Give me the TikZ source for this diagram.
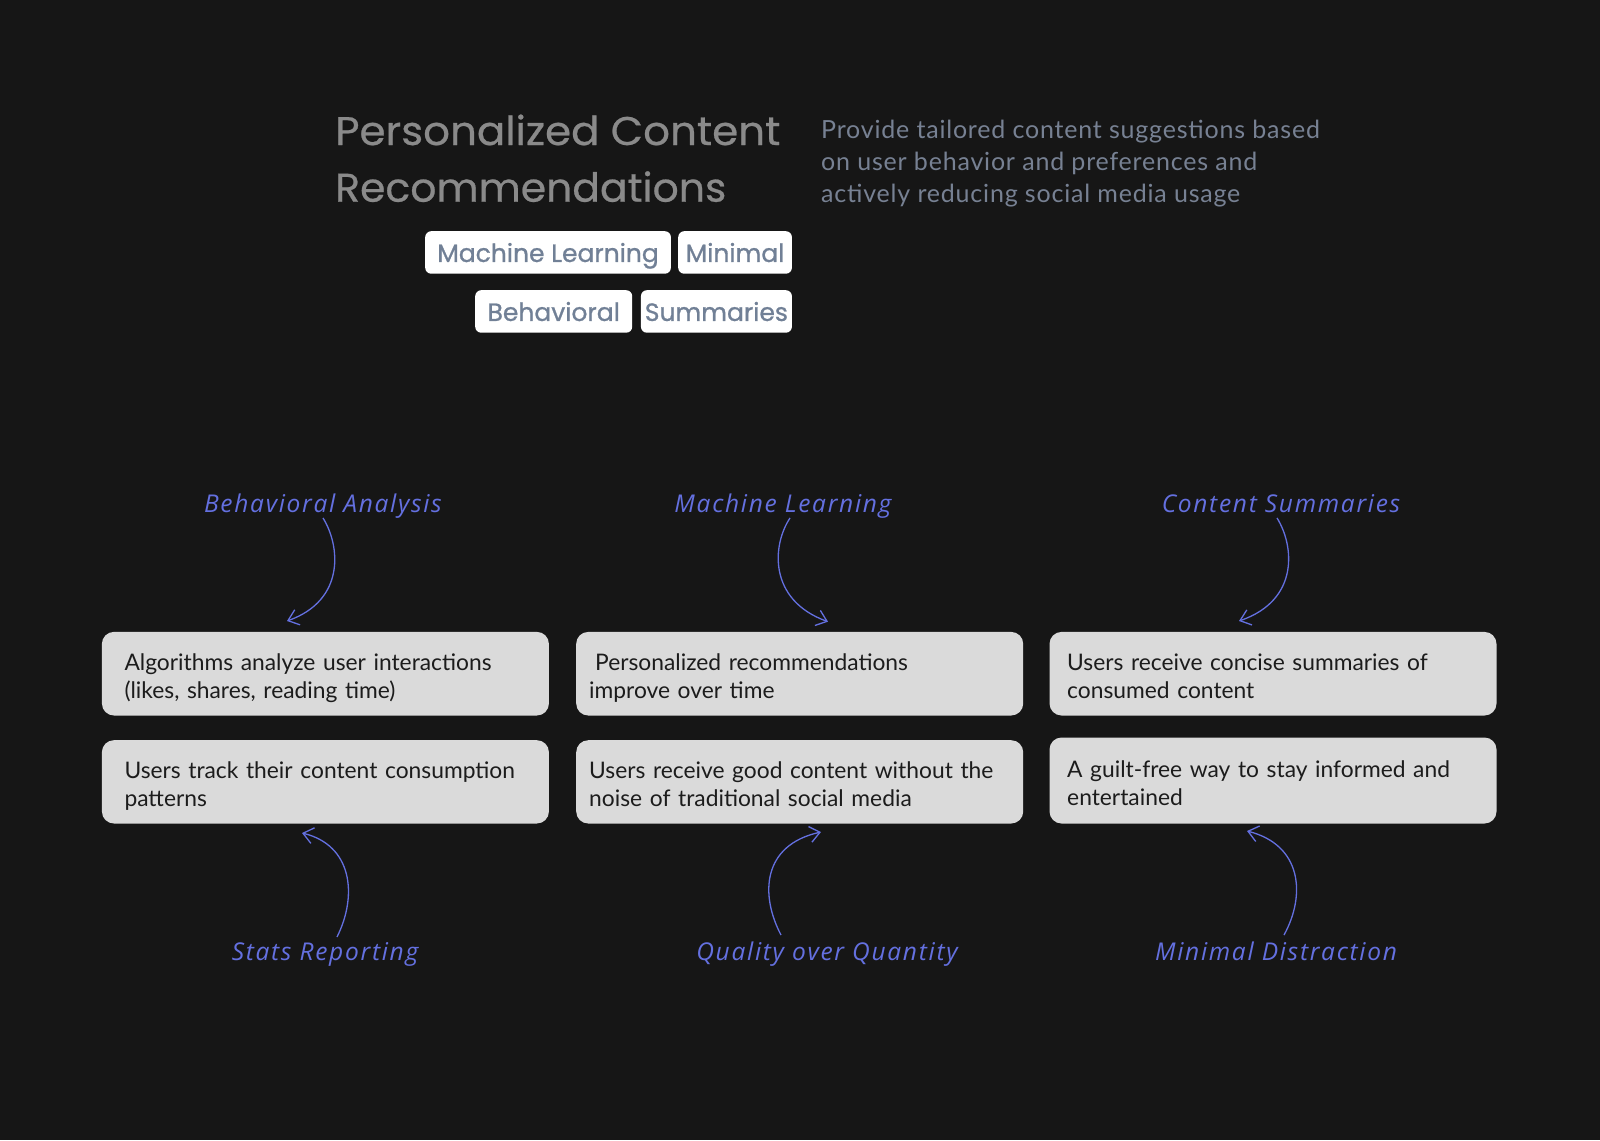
\documentclass[tikz,border=0pt]{standalone}
\usepackage{fontspec}
\setmainfont{Lato}
\newfontfamily\descfont{Lato}[LetterSpace=3.2]
\newfontfamily\titlefont{Poppins}[FakeBold=0.6]
\newfontfamily\tagfont{Poppins}[FakeBold=0.9]
\newfontfamily\handfont{Open Sans}[LetterSpace=7]
\usetikzlibrary{arrows.meta,calc}
\definecolor{bg}{HTML}{161616}
\definecolor{titlegray}{HTML}{8A8A8A}
\definecolor{descgray}{HTML}{778193}
\definecolor{tagtext}{HTML}{718096}
\definecolor{boxfill}{HTML}{DADADA}
\definecolor{boxtext}{HTML}{1C1C1C}
\definecolor{handblue}{HTML}{6470E0}
\newcommand\tstr{\rule{0pt}{27pt}}
\newcommand\bstr{\rule[-6pt]{0pt}{6pt}}
\newcommand\titlewide[2]{\scalebox{#1}[1]{#2}}
\begin{document}
\begin{tikzpicture}[x=1pt,y=-1pt,
  titletext/.style={anchor=base west, inner sep=0pt, text=titlegray, font=\titlefont\fontsize{40}{48}\selectfont},
  desctext/.style={anchor=base west, inner sep=0pt, text=descgray, font=\descfont\fontsize{25}{32}\selectfont},
  tag/.style={anchor=north west, fill=white, rounded corners=6pt, text=tagtext, inner sep=0pt,
    font=\tagfont\fontsize{25}{30}\selectfont, text height=23pt, text depth=4pt, minimum height=42.5pt},
  infobox/.style={anchor=north west, fill=boxfill, rounded corners=12pt, text=boxtext, align=left,
    font=\fontsize{22.8}{28}\selectfont, inner ysep=0pt},
  hand/.style={anchor=base, inner sep=0pt, text=handblue, font=\handfont\itshape\fontsize{24.5}{28}\selectfont},
  harrow/.style={draw=handblue, line width=1.3pt, -{Straight Barb[length=10pt,width=16pt]}}
]
\useasboundingbox[fill=bg] (0,0) rectangle (1600,1140);

% title
\node[titletext] (title1) at (335,145) {\titlewide{1.05}{Personalized Content}};
\node[titletext] (title2) at (335,201.7) {\titlewide{1.023}{Recommendations}};

% description
\node[desctext] (desc1) at (821,138.3) {Provide tailored content suggestions based};
\node[desctext] (desc2) at (821,170.7) {on user behavior and preferences and};
\node[desctext] (desc3) at (821,202.3) {actively reducing social media usage};

% tags
\node[tag, minimum width=245.7pt] (tagml) at (425,231) {Machine Learning};
\node[tag, minimum width=113.7pt] (tagmin) at (678,231) {Minimal};
\node[tag, minimum width=157pt] (tagbeh) at (475,290) {Behavioral};
\node[tag, minimum width=151pt] (tagsum) at (640.7,290) {Summaries};

% boxes
\node[infobox, inner xsep=22.6pt, text width=401.8pt, minimum height=83.6pt] (b11) at (101.7,631.7)
  {\tstr Algorithms analyze user interactions\\(likes, shares, reading time)\bstr};
\node[infobox, inner xsep=22.6pt, text width=401.8pt, minimum height=83.3pt] (b12) at (101.7,740)
  {\tstr Users track their content consumption\\patterns\bstr};
\node[infobox, inner xsep=13pt, text width=421pt, minimum height=83.6pt] (b21) at (576,631.7)
  {\tstr\hspace*{6pt}Personalized recommendations\\improve over time\bstr};
\node[infobox, inner xsep=13pt, text width=421pt, minimum height=83.3pt] (b22) at (576,740)
  {\tstr Users receive good content without the\\noise of traditional social media\bstr};
\node[infobox, inner xsep=17.7pt, text width=411.6pt, minimum height=83.6pt] (b31) at (1049.3,631.7)
  {\tstr Users receive concise summaries of\\consumed content\bstr};
\node[infobox, inner xsep=17.7pt, text width=411.6pt, minimum height=86pt] (b32) at (1049.3,737.3)
  {\tstr A guilt-free way to stay informed and\\entertained\bstr};

% handwritten labels
\node[hand] (lba) at (323,512) {Behavioral Analysis};
\node[hand] (lml) at (783,512) {Machine Learning};
\node[hand] (lcs) at (1281,512) {Content Summaries};
\node[hand] (lsr) at (325,960) {Stats Reporting};
\node[hand] (lqq) at (827,960) {Quality over Quantity};
\node[hand] (lmd) at (1276,960) {Minimal Distraction};

% connector ends
\coordinate (s1) at (323,518);
\coordinate (s2) at (790,518);
\coordinate (s3) at (1277,518);
\coordinate (e1) at (287,621);
\coordinate (e2) at (828,621.7);
\coordinate (e3) at (1239,621);
\coordinate (u1) at (337,937);
\coordinate (u2) at (781,935);
\coordinate (u3) at (1284,935);
\coordinate (f1) at (302,833);
\coordinate (f2) at (821,832);
\coordinate (f3) at (1247,831);

\draw[harrow] (s1) .. controls (340,545) and (346,600) .. (e1);
\draw[harrow] (s2) .. controls (772,545) and (768,600) .. (e2);
\draw[harrow] (s3) .. controls (1294,545) and (1300,600) .. (e3);
\draw[harrow] (u1) .. controls (358,895) and (352,845) .. (f1);
\draw[harrow] (u2) .. controls (760,895) and (762,845) .. (f2);
\draw[harrow] (u3) .. controls (1306,895) and (1302,845) .. (f3);
\end{tikzpicture}
\end{document}
